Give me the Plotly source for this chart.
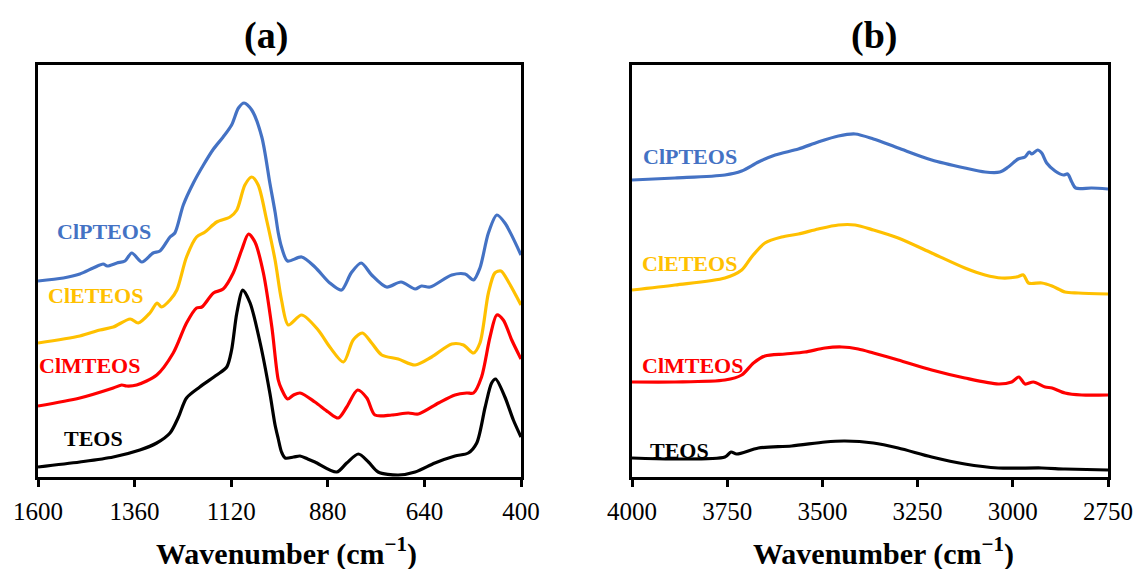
import plotly.graph_objects as go

# ---------------- Panel (a): 1600-400 cm-1 ----------------
a_ticks = [1600, 1360, 1120, 880, 640, 400]

a_teos_wn = [1600, 1496, 1413, 1347, 1305, 1272, 1251, 1231, 1198, 1156, 1131, 1119, 1106, 1091,
             1073, 1048, 1024, 1011, 1003, 995, 986, 965, 949, 930, 912, 858, 833, 804, 779, 755,
             705, 663, 614, 564, 531, 510, 489, 473, 463, 440, 419, 400]
a_teos_ab = [10, 15, 20, 27, 34, 44, 60, 79, 90, 102, 110, 127, 164, 187,
             174, 134, 84, 52, 38, 25, 19, 20, 21, 18, 15, 5, 14, 23, 15, 5,
             2, 5, 14, 21, 24, 34, 70, 94, 98, 80, 57, 40]

a_clm_wn = [1600, 1496, 1413, 1392, 1380, 1355, 1305, 1264, 1231, 1206, 1193, 1164, 1140, 1115,
            1094, 1077, 1061, 1040, 1019, 1003, 995, 980, 965, 949, 912, 879, 854, 833, 806, 783,
            763, 721, 680, 655, 605, 564, 535, 518, 498, 477, 460, 444, 423, 400]
a_clm_ab = [71, 79, 89, 92, 91, 92, 102, 124, 154, 169, 170, 184, 188, 204,
            227, 243, 235, 204, 150, 97, 88, 78, 82, 84, 75, 65, 59, 70, 87, 79,
            62, 62, 64, 63, 74, 82, 84, 84, 100, 140, 162, 157, 137, 118]

a_cle_wn = [1600, 1496, 1446, 1413, 1371, 1351, 1322, 1304, 1293, 1272, 1255, 1231, 1206, 1185,
            1156, 1123, 1106, 1086, 1069, 1053, 1032, 1011, 995, 978, 945, 904, 875, 841, 817,
            794, 771, 746, 705, 663, 622, 572, 543, 518, 502, 481, 465, 450, 431, 400]
a_cle_ab = [134, 141, 147, 150, 158, 154, 164, 174, 170, 177, 187, 220, 240, 245,
            255, 260, 267, 292, 300, 292, 257, 217, 177, 152, 162, 147, 130, 115, 137,
            144, 134, 122, 118, 112, 120, 133, 132, 124, 134, 184, 204, 206, 195, 172]

a_clp_wn = [1600, 1537, 1496, 1463, 1438, 1428, 1404, 1384, 1367, 1342, 1314, 1297, 1272, 1260,
            1239, 1214, 1189, 1164, 1140, 1119, 1102, 1088, 1069, 1044, 1024, 1011, 1003, 995,
            980, 945, 912, 875, 846, 822, 797, 771, 734, 698, 663, 647, 626, 572, 539, 518, 502,
            481, 460, 440, 400]
a_clp_ab = [196, 199, 203, 209, 213, 211, 214, 216, 224, 215, 224, 226, 240, 244,
            272, 294, 312, 328, 340, 352, 369, 374, 367, 340, 294, 265, 244, 230,
            216, 220, 210, 194, 187, 204, 214, 202, 190, 195, 188, 191, 190, 202, 203, 197, 209,
            244, 262, 254, 222]

# ---------------- Panel (b): 4000-2750 cm-1 ----------------
b_ticks = [4000, 3750, 3500, 3250, 3000, 2750]

b_clp_wn = [4000, 3887, 3756, 3712, 3668, 3624, 3563, 3511, 3458, 3414, 3366, 3301, 3213, 3126,
            3073, 3034, 3012, 2986, 2968, 2957, 2950, 2935, 2924, 2911, 2889, 2867, 2856, 2845,
            2835, 2793, 2750]
b_clp_ab = [297, 299, 302, 306, 315, 322, 328, 335, 341, 343, 338, 329, 317, 309,
            305, 305, 310, 318, 320, 325, 323, 327, 324, 314, 306, 302, 303, 295,
            289, 289, 288]

b_cle_wn = [4000, 3887, 3756, 3712, 3686, 3651, 3607, 3563, 3511, 3458, 3414, 3366, 3301, 3213,
            3126, 3073, 3029, 2990, 2972, 2959, 2924, 2897, 2863, 2828, 2750]
b_cle_ab = [187, 192, 199, 207, 220, 234, 240, 243, 248, 252, 252, 247, 239, 224,
            209, 202, 199, 200, 202, 194, 194, 191, 185, 184, 183]

b_clm_wn = [4000, 3887, 3756, 3712, 3681, 3651, 3598, 3546, 3493, 3449, 3406, 3366, 3301, 3213,
            3126, 3038, 3003, 2984, 2968, 2946, 2915, 2897, 2863, 2819, 2750]
b_clm_ab = [95, 95, 97, 102, 114, 121, 123, 125, 129, 130, 128, 124, 117, 107,
            99, 93, 95, 100, 93, 95, 90, 89, 84, 82, 82]

b_teos_wn = [4000, 3887, 3756, 3740, 3725, 3668, 3581, 3493, 3441, 3366, 3301, 3213, 3126, 3038,
             2924, 2863, 2750]
b_teos_ab = [19, 18, 20, 25, 23, 29, 31, 35, 36, 34, 29, 20, 13, 9,
             9, 8, 7]

names = ["ClPTEOS", "ClETEOS", "ClMTEOS", "TEOS"]
colors = ["#4472C4", "#FFC000", "#FF0000", "#000000"]

panel_a = [(a_clp_wn, a_clp_ab), (a_cle_wn, a_cle_ab), (a_clm_wn, a_clm_ab), (a_teos_wn, a_teos_ab)]
panel_b = [(b_clp_wn, b_clp_ab), (b_cle_wn, b_cle_ab), (b_clm_wn, b_clm_ab), (b_teos_wn, b_teos_ab)]

# label anchor points (wavenumber, intensity) for each curve name
a_label_pos = [(1436, 245), (1458, 182), (1471, 112), (1463, 39)]
b_label_pos = [(3848, 320), (3850, 214), (3842, 112), (3874, 27)]

W, H = 1137, 569
SERIF = "Liberation Serif, Times New Roman, serif"

fig = go.Figure()

for (wn, ab), name, col in zip(panel_a, names, colors):
    fig.add_trace(go.Scatter(x=wn, y=ab, mode="lines", name=name, showlegend=False,
                             line=dict(color=col, width=3.2, shape="spline", smoothing=0.8),
                             xaxis="x", yaxis="y"))
for (wn, ab), name, col in zip(panel_b, names, colors):
    fig.add_trace(go.Scatter(x=wn, y=ab, mode="lines", name=name, showlegend=False,
                             line=dict(color=col, width=3.2, shape="spline", smoothing=0.8),
                             xaxis="x2", yaxis="y2"))

annotations = []
for (px, py), name, col in zip(a_label_pos, names, colors):
    annotations.append(dict(x=px, y=py, xref="x", yref="y", text=f"<b>{name}</b>", showarrow=False,
                            xanchor="center", yanchor="middle",
                            font=dict(family=SERIF, size=22, color=col)))
for (px, py), name, col in zip(b_label_pos, names, colors):
    annotations.append(dict(x=px, y=py, xref="x2", yref="y2", text=f"<b>{name}</b>", showarrow=False,
                            xanchor="center", yanchor="middle",
                            font=dict(family=SERIF, size=22, color=col)))

# panel titles
for cx, lab in ((266 / W, "(a)"), (874 / W, "(b)")):
    annotations.append(dict(x=cx, y=1 - 35 / H, xref="paper", yref="paper", text=f"<b>{lab}</b>",
                            xanchor="center", yanchor="middle", showarrow=False,
                            font=dict(family=SERIF, size=38, color="black")))
# axis titles
for cx in (286 / W, 883 / W):
    annotations.append(dict(x=cx, y=1 - 551 / H, xref="paper", yref="paper",
                            text="<b>Wavenumber (cm<sup>−1</sup>)</b>", showarrow=False,
                            xanchor="center", yanchor="middle",
                            font=dict(family=SERIF, size=30, color="black")))

xcommon = dict(showline=True, linecolor="black", linewidth=3, mirror=True, showgrid=False,
               zeroline=False, ticks="outside", ticklen=7, tickwidth=3, tickcolor="black",
               ticklabelstandoff=3,
               tickfont=dict(family=SERIF, size=25, color="black"), automargin=False)
ycommon = dict(showline=True, linecolor="black", linewidth=3, mirror=True, showgrid=False,
               zeroline=False, showticklabels=False, ticks="", range=[0, 412], automargin=False)

y_dom = [92 / H, 504 / H]

fig.update_layout(
    width=W, height=H,
    margin=dict(l=0, r=0, t=0, b=0, autoexpand=False),
    paper_bgcolor="white", plot_bgcolor="white",
    xaxis=dict(domain=[38 / W, 521 / W], range=[1600, 400], tickvals=a_ticks, anchor="y", **xcommon),
    yaxis=dict(domain=y_dom, anchor="x", **ycommon),
    xaxis2=dict(domain=[632 / W, 1108 / W], range=[4000, 2750], tickvals=b_ticks, anchor="y2", **xcommon),
    yaxis2=dict(domain=y_dom, anchor="x2", **ycommon),
    annotations=annotations,
)

fig.write_html("out.html")
